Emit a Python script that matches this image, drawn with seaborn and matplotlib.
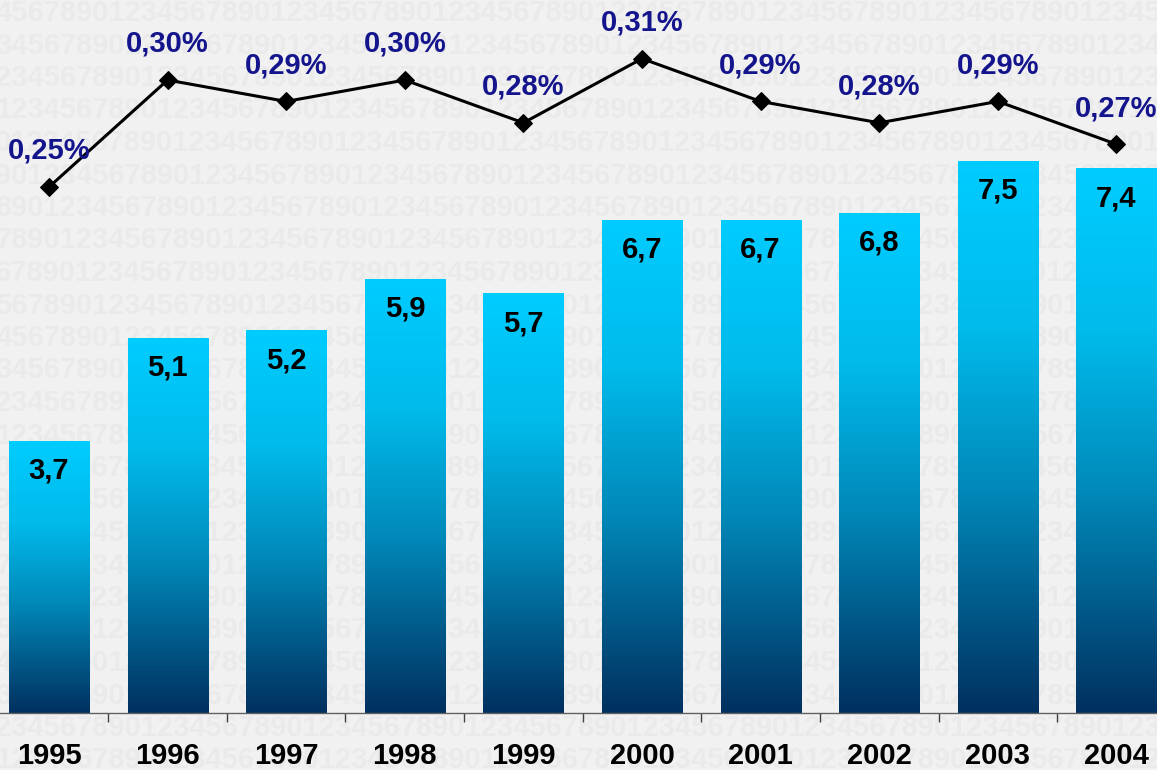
import numpy as np
import pandas as pd
import matplotlib
matplotlib.use("Agg")
import matplotlib.pyplot as plt
import seaborn as sns
from matplotlib.colors import LinearSegmentedColormap

# ---- data ----
years = ["1995", "1996", "1997", "1998", "1999", "2000", "2001", "2002", "2003", "2004"]
values = [3.7, 5.1, 5.2, 5.9, 5.7, 6.7, 6.7, 6.8, 7.5, 7.4]
value_labels = ["3,7", "5,1", "5,2", "5,9", "5,7", "6,7", "6,7", "6,8", "7,5", "7,4"]
shares = [0.25, 0.30, 0.29, 0.30, 0.28, 0.31, 0.29, 0.28, 0.29, 0.27]
share_labels = ["0,25%", "0,30%", "0,29%", "0,30%", "0,28%", "0,31%", "0,29%", "0,28%", "0,29%", "0,27%"]
watermark = "1234567890"

sns.set_theme(style="white")
plt.rcParams["font.family"] = ["Liberation Sans", "DejaVu Sans"]

W, H = 1157, 770
FS = 21
fig = plt.figure(figsize=(W / 100, H / 100), dpi=100, facecolor="#F1F1F1")

# very faint digit watermark in the background
base = watermark * 12
for r in range(24):
    y = 1 - (13 + r * 32.5) / H
    shift = (3 - r) % 10
    fig.text(-0.004, y, base[shift:shift + 80], fontsize=FS, fontweight="bold",
             color="#EAEAEA", va="center", ha="left", zorder=-5)

ax = fig.add_axes([0, 57 / H, 1, 713 / H])
ax.set_facecolor("none")

df = pd.DataFrame({"year": years, "value": values})
sns.barplot(data=df, x="year", y="value", ax=ax, width=0.675, color="#00CCFF",
            saturation=1, edgecolor="none", linewidth=0)

XL = (-0.413, 9.342)
YL = (0, 713 / 73.6)

cmap = LinearSegmentedColormap.from_list(
    "bargrad", [(0.0, "#00305F"), (0.4, "#0088B8"), (0.7, "#00BBEB"), (1.0, "#00CCFF")])
grad = np.linspace(0, 1, 256).reshape(-1, 1)
for p in list(ax.patches):
    x0, y0, w, h = p.get_x(), p.get_y(), p.get_width(), p.get_height()
    im = ax.imshow(grad, cmap=cmap, origin="lower", extent=[x0, x0 + w, y0, y0 + h],
                   aspect="auto", zorder=p.get_zorder(), interpolation="bilinear")
    im.set_clip_path(p)
    p.set_facecolor("none")

ax.set_xlim(*XL)
ax.set_ylim(*YL)

for i, p in enumerate(ax.patches):
    ax.annotate(value_labels[i], (p.get_x() + p.get_width() / 2, p.get_height()),
                xytext=(0, -21.5), textcoords="offset points", ha="center", va="center",
                fontsize=FS, fontweight="bold", color="black", zorder=5)

# axes styling
ax.set_xticks(range(len(years)))
ax.set_xticklabels(years, fontsize=FS, fontweight="bold", color="black")
ax.set_xticks(np.arange(-0.5, len(years), 1), minor=True)
ax.tick_params(axis="x", which="major", bottom=True, length=0, pad=21)
ax.tick_params(axis="x", which="minor", bottom=True, length=6.5, width=1,
               color="#404040", direction="out")
ax.set_yticks([])
ax.set_xlabel("")
ax.set_ylabel("")
for s in ["left", "right", "top"]:
    ax.spines[s].set_visible(False)
ax.spines["bottom"].set_color("#606060")
ax.spines["bottom"].set_linewidth(1)

# secondary axis: share line
ax2 = ax.twinx()
sns.lineplot(x=np.arange(len(shares)), y=shares, ax=ax2, color="black", marker="D",
             markersize=9.2, linewidth=2.2, markeredgecolor="black", zorder=6)
ax2.set_ylim(0.0042, 0.3374)
ax2.set_xlim(*XL)
for i, v in enumerate(shares):
    ax2.annotate(share_labels[i], (i, v), xytext=(0, 26), textcoords="offset points",
                 ha="center", va="center", fontsize=FS, fontweight="bold",
                 color="#14148C", zorder=7)
ax2.set_yticks([])
ax2.set_ylabel("")
for s in ax2.spines.values():
    s.set_visible(False)

fig.savefig("out.png", dpi=100, facecolor=fig.get_facecolor())
